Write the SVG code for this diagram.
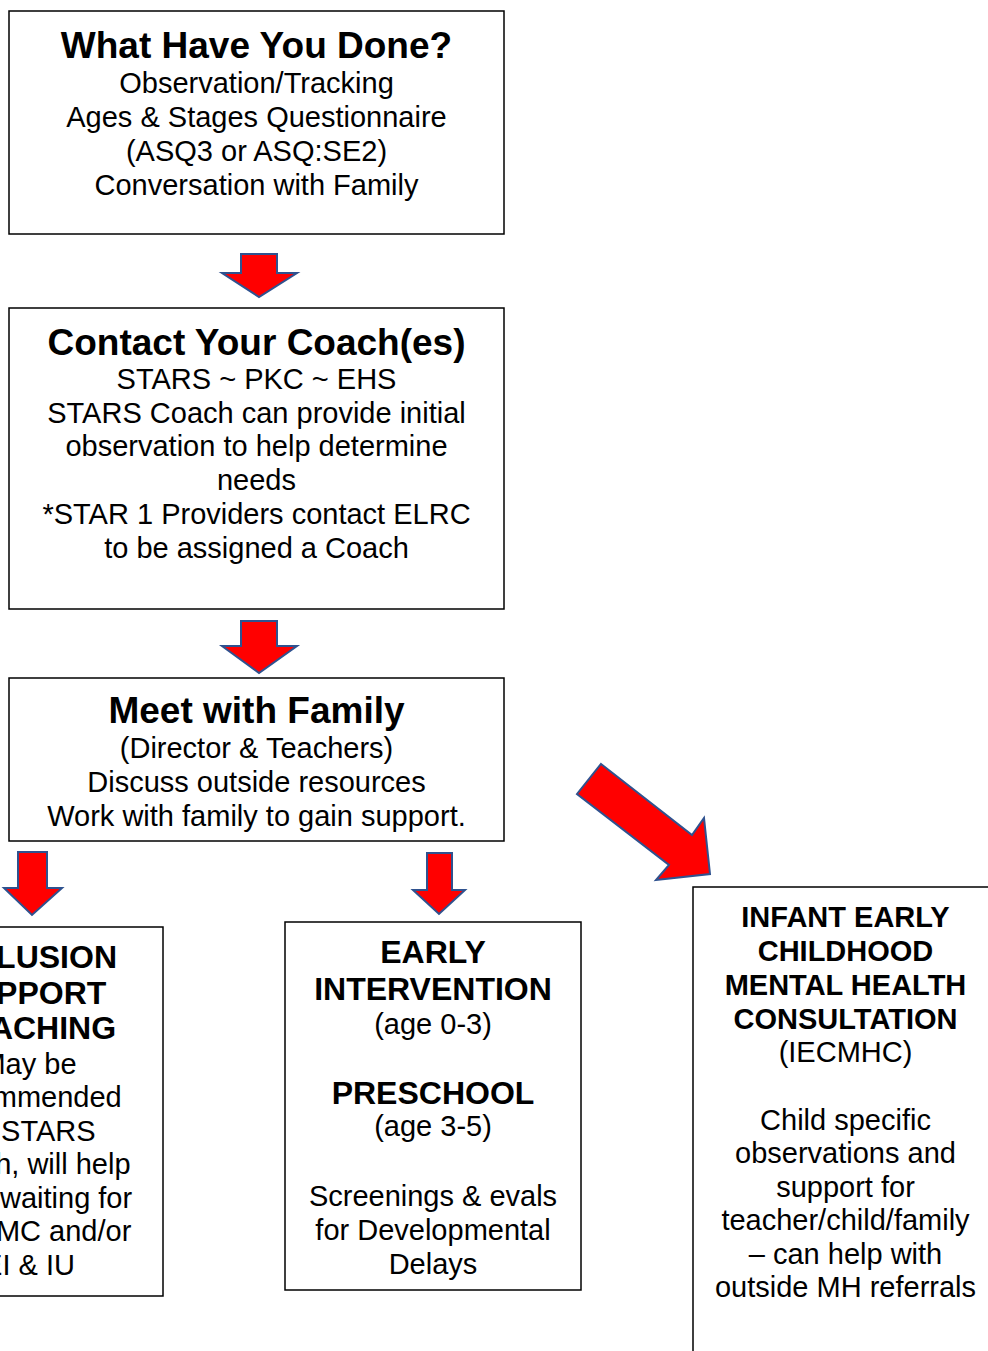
<svg xmlns="http://www.w3.org/2000/svg" width="988" height="1351" viewBox="0 0 988 1351">
<style>
.box{fill:#fff;stroke:#000;stroke-width:1.5}
.arr{fill:#ff0000;stroke:#2f528f;stroke-width:2;stroke-linejoin:miter}
text{font-family:"Liberation Sans",Arial,sans-serif;fill:#000;text-anchor:middle}
.t{font-size:37px;font-weight:bold}
.h{font-size:32px;font-weight:bold}
.h2{font-size:29px;font-weight:bold}
.b{font-size:29px}
</style>
<rect width="988" height="1351" fill="#fff"/>
<g id="connectors">
<polygon class="arr" points="241,254 277,254 277,273 297,273 259,297 222,273 241,273"/>
<polygon class="arr" points="241,621 277,621 277,646 297,646 259,673 222,646 241,646"/>
<polygon class="arr" points="18,852 47,852 47,888 62,888 32,915 4,888 18,888"/>
<polygon class="arr" points="427,853 452,853 452,890 465,890 439,914 413,890 427,890"/>
<polygon class="arr" points="601,764 692,835 704,818 710,874 656,880 669,865 577,794"/>
</g>
<g id="node-done">
<rect class="box" x="9" y="11" width="495" height="223"/>
<text class="t" x="256.5" y="58">What Have You Done?</text>
<text class="b" x="256.5" y="92.5">Observation/Tracking</text>
<text class="b" x="256.5" y="126.5">Ages &amp; Stages Questionnaire</text>
<text class="b" x="256.5" y="160.5">(ASQ3 or ASQ:SE2)</text>
<text class="b" x="256.5" y="194.5">Conversation with Family</text>
</g>
<g id="node-coach">
<rect class="box" x="9" y="308" width="495" height="301"/>
<text class="t" x="256.5" y="355">Contact Your Coach(es)</text>
<text class="b" x="256.5" y="389">STARS ~ PKC ~ EHS</text>
<text class="b" x="256.5" y="422.5">STARS Coach can provide initial</text>
<text class="b" x="256.5" y="456">observation to help determine</text>
<text class="b" x="256.5" y="490">needs</text>
<text class="b" x="256.5" y="524">*STAR 1 Providers contact ELRC</text>
<text class="b" x="256.5" y="557.5">to be assigned a Coach</text>
</g>
<g id="node-family">
<rect class="box" x="9" y="678" width="495" height="163"/>
<text class="t" x="256.5" y="723">Meet with Family</text>
<text class="b" x="256.5" y="757.5">(Director &amp; Teachers)</text>
<text class="b" x="256.5" y="791.5">Discuss outside resources</text>
<text class="b" x="256.5" y="825.5">Work with family to gain support.</text>
</g>
<g id="node-inclusion">
<rect class="box" x="-110" y="927" width="273" height="369"/>
<text class="h" x="29" y="968">INCLUSION</text>
<text class="h" x="29" y="1004">SUPPORT</text>
<text class="h" x="29" y="1039">COACHING</text>
<text class="b" x="29" y="1073.5">May be</text>
<text class="b" x="29" y="1107">recommended</text>
<text class="b" x="29" y="1140.5">by STARS</text>
<text class="b" x="29" y="1174">Coach, will help</text>
<text class="b" x="29" y="1207.5">while waiting for</text>
<text class="b" x="29" y="1241">IECHMC and/or</text>
<text class="b" x="29" y="1274.5">EI &amp; IU</text>
</g>
<g id="node-ei">
<rect class="box" x="285" y="922" width="296" height="368"/>
<text class="h" x="433" y="963">EARLY</text>
<text class="h" x="433" y="1000">INTERVENTION</text>
<text class="b" x="433" y="1033.5">(age 0-3)</text>
<text class="h" x="433" y="1103.5">PRESCHOOL</text>
<text class="b" x="433" y="1135.5">(age 3-5)</text>
<text class="b" x="433" y="1205.5">Screenings &amp; evals</text>
<text class="b" x="433" y="1239.5">for Developmental</text>
<text class="b" x="433" y="1273.5">Delays</text>
</g>
<g id="node-iecmhc">
<rect class="box" x="693" y="887" width="310" height="500"/>
<text class="h2" x="845.5" y="926.5">INFANT EARLY</text>
<text class="h2" x="845.5" y="960.5">CHILDHOOD</text>
<text class="h2" x="845.5" y="994.5">MENTAL HEALTH</text>
<text class="h2" x="845.5" y="1028.5">CONSULTATION</text>
<text class="b" x="845.5" y="1062">(IECMHC)</text>
<text class="b" x="845.5" y="1129.5">Child specific</text>
<text class="b" x="845.5" y="1163">observations and</text>
<text class="b" x="845.5" y="1196.5">support for</text>
<text class="b" x="845.5" y="1230">teacher/child/family</text>
<text class="b" x="845.5" y="1263.5">– can help with</text>
<text class="b" x="845.5" y="1297">outside MH referrals</text>
</g>
</svg>
